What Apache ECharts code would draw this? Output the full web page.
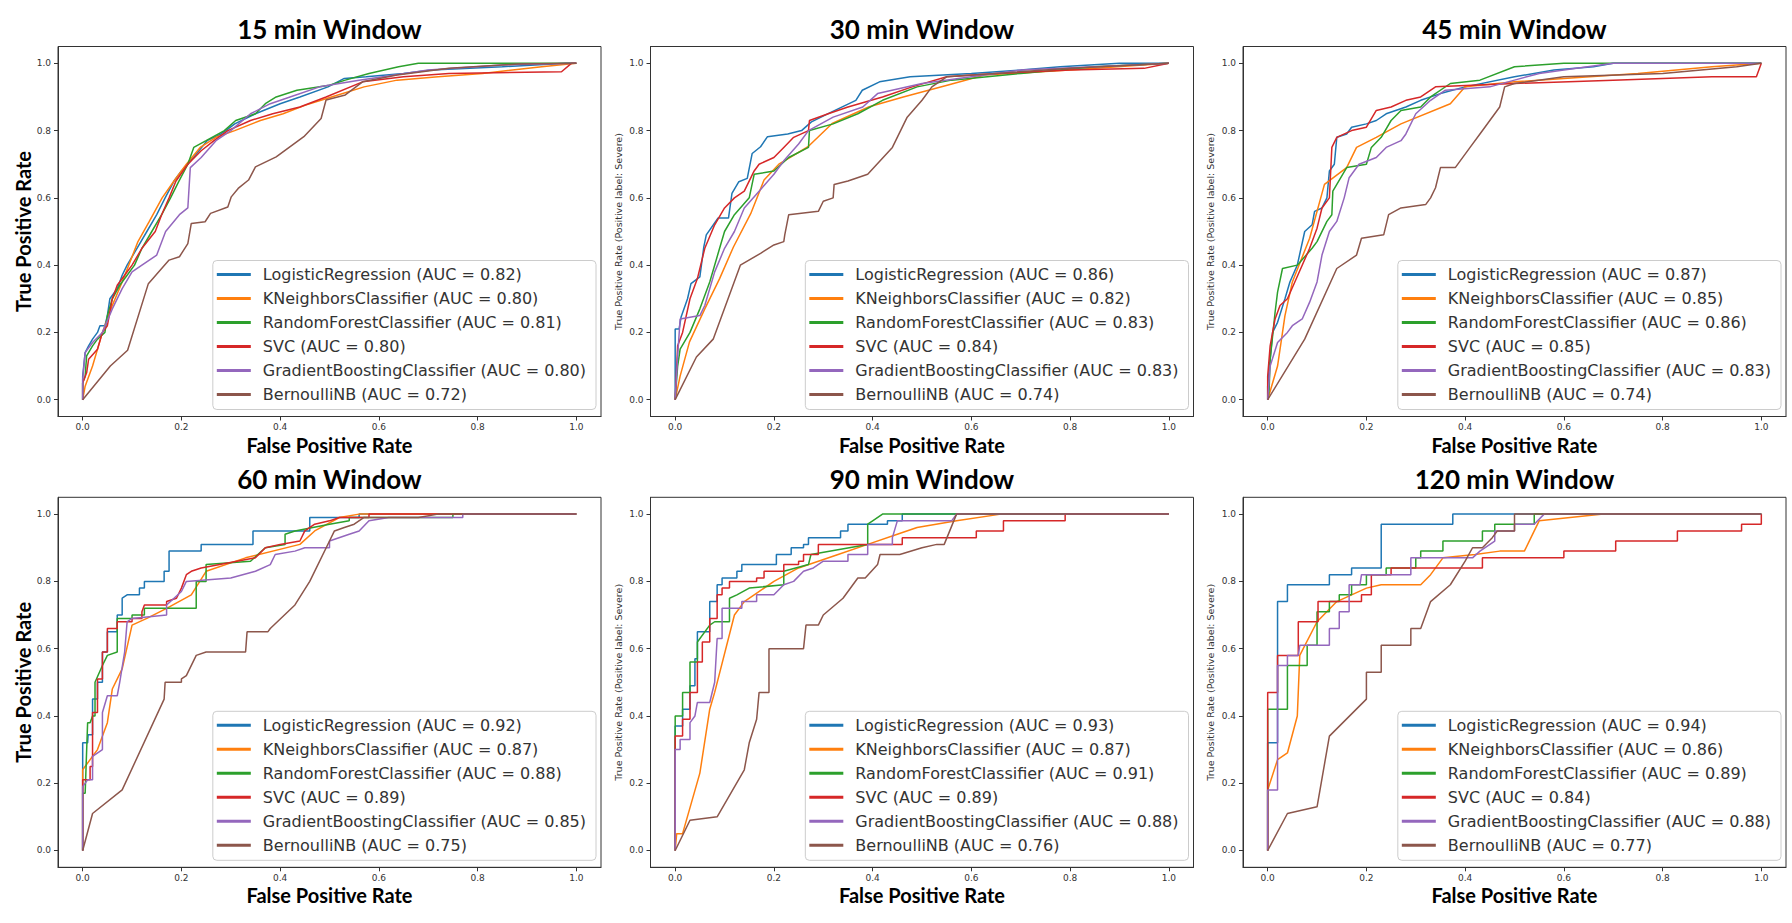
<!DOCTYPE html>
<html>
<head>
<meta charset="utf-8">
<script src="https://cdn.jsdelivr.net/npm/echarts@6/dist/echarts.min.js"></script>
<style>
html,body{margin:0;padding:0;background:#fff;}
#roc-chart{width:1792px;height:923px;}
</style>
</head>
<body>
<div id="roc-chart"></div>
<script>
var windows = ['15 min Window', '30 min Window', '45 min Window', '60 min Window', '90 min Window', '120 min Window'];
var models = ['LogisticRegression', 'KNeighborsClassifier', 'RandomForestClassifier', 'SVC', 'GradientBoostingClassifier', 'BernoulliNB'];
var colors = ['#1f77b4', '#ff7f0e', '#2ca02c', '#d62728', '#9467bd', '#8c564b'];
var tickValues = [0, 0.2, 0.4, 0.6, 0.8, 1.0];

// AUC per model, one list per window
var auc15 = ['0.82', '0.80', '0.81', '0.80', '0.80', '0.72'];
var auc30 = ['0.86', '0.82', '0.83', '0.84', '0.83', '0.74'];
var auc45 = ['0.87', '0.85', '0.86', '0.85', '0.83', '0.74'];
var auc60 = ['0.92', '0.87', '0.88', '0.89', '0.85', '0.75'];
var auc90 = ['0.93', '0.87', '0.91', '0.89', '0.88', '0.76'];
var auc120 = ['0.94', '0.86', '0.89', '0.84', '0.88', '0.77'];

// ROC points [fpr, tpr]
//15 min
var lr15 = [[0,0],[0,0.07],[0.005,0.14],[0.012,0.16],[0.02,0.18],[0.03,0.2],[0.035,0.22],[0.045,0.22],[0.05,0.25],[0.055,0.3],[0.07,0.33],[0.08,0.37],[0.09,0.4],[0.11,0.45],[0.13,0.5],[0.15,0.55],[0.167,0.6],[0.185,0.65],[0.2,0.68],[0.213,0.7],[0.23,0.73],[0.252,0.77],[0.28,0.79],[0.29,0.8],[0.308,0.82],[0.35,0.85],[0.4,0.88],[0.44,0.9],[0.497,0.93],[0.53,0.955],[0.574,0.96],[0.65,0.97],[0.707,0.98],[0.85,0.99],[0.98,1.0],[1,1]];
var kn15 = [[0,0],[0.005,0.04],[0.02,0.1],[0.04,0.2],[0.06,0.28],[0.08,0.35],[0.112,0.47],[0.135,0.53],[0.161,0.6],[0.185,0.65],[0.21,0.7],[0.238,0.75],[0.27,0.78],[0.308,0.8],[0.36,0.83],[0.406,0.85],[0.45,0.875],[0.504,0.9],[0.57,0.93],[0.637,0.95],[0.72,0.96],[0.81,0.97],[0.93,0.99],[1,1]];
var rf15 = [[0,0],[0,0.05],[0.005,0.07],[0.008,0.13],[0.02,0.16],[0.03,0.18],[0.045,0.2],[0.05,0.25],[0.06,0.3],[0.075,0.34],[0.09,0.37],[0.105,0.4],[0.12,0.45],[0.14,0.5],[0.16,0.55],[0.178,0.6],[0.195,0.65],[0.213,0.7],[0.225,0.75],[0.25,0.77],[0.287,0.8],[0.31,0.83],[0.35,0.85],[0.37,0.88],[0.392,0.9],[0.434,0.92],[0.5,0.935],[0.532,0.95],[0.58,0.97],[0.64,0.99],[0.68,1.0],[1,1]];
var sv15 = [[0,0],[0,0.05],[0.008,0.08],[0.012,0.12],[0.03,0.15],[0.04,0.2],[0.05,0.22],[0.06,0.3],[0.07,0.34],[0.085,0.37],[0.1,0.4],[0.12,0.45],[0.147,0.5],[0.16,0.55],[0.175,0.6],[0.189,0.65],[0.213,0.7],[0.24,0.74],[0.266,0.77],[0.294,0.8],[0.34,0.83],[0.385,0.85],[0.44,0.87],[0.493,0.9],[0.567,0.945],[0.65,0.96],[0.742,0.97],[0.97,0.975],[0.99,1.0],[1,1]];
var gb15 = [[0,0],[0,0.06],[0.005,0.14],[0.02,0.17],[0.04,0.2],[0.06,0.27],[0.08,0.33],[0.1,0.38],[0.12,0.4],[0.15,0.43],[0.168,0.5],[0.196,0.55],[0.213,0.57],[0.218,0.69],[0.24,0.72],[0.27,0.77],[0.3,0.8],[0.34,0.85],[0.38,0.88],[0.42,0.9],[0.48,0.93],[0.56,0.95],[0.7,0.98],[0.85,0.995],[1,1]];
var nb15 = [[0,0],[0.056,0.1],[0.091,0.147],[0.133,0.345],[0.175,0.415],[0.196,0.425],[0.213,0.464],[0.22,0.524],[0.248,0.529],[0.259,0.554],[0.294,0.573],[0.301,0.603],[0.315,0.628],[0.336,0.653],[0.35,0.692],[0.392,0.722],[0.448,0.782],[0.483,0.836],[0.493,0.891],[0.532,0.906],[0.567,0.945],[0.637,0.965],[0.742,0.985],[0.882,0.998],[1,1]];
//30 min
var lr30 = [[0,0],[0,0.21],[0.008,0.21],[0.012,0.246],[0.025,0.3],[0.032,0.345],[0.05,0.365],[0.058,0.454],[0.063,0.49],[0.087,0.54],[0.108,0.54],[0.115,0.613],[0.129,0.648],[0.146,0.658],[0.156,0.732],[0.173,0.752],[0.187,0.782],[0.228,0.79],[0.256,0.8],[0.276,0.826],[0.311,0.851],[0.366,0.89],[0.379,0.92],[0.414,0.945],[0.476,0.96],[0.6,0.97],[0.7,0.98],[0.78,0.99],[0.9,1.0],[1,1]];
var kn30 = [[0,0],[0.01,0.07],[0.029,0.172],[0.06,0.27],[0.09,0.36],[0.118,0.454],[0.153,0.553],[0.18,0.653],[0.21,0.7],[0.269,0.752],[0.318,0.821],[0.393,0.871],[0.462,0.9],[0.551,0.935],[0.627,0.965],[0.8,0.98],[1,1]];
var rf30 = [[0,0],[0.005,0.1],[0.01,0.15],[0.03,0.2],[0.05,0.27],[0.07,0.35],[0.09,0.45],[0.1,0.5],[0.12,0.55],[0.15,0.6],[0.16,0.67],[0.2,0.68],[0.23,0.72],[0.27,0.75],[0.272,0.8],[0.32,0.82],[0.37,0.85],[0.42,0.89],[0.49,0.93],[0.56,0.95],[0.7,0.97],[0.85,0.99],[1,1]];
var sv30 = [[0,0],[0.005,0.16],[0.015,0.2],[0.03,0.3],[0.045,0.36],[0.06,0.45],[0.08,0.52],[0.1,0.57],[0.12,0.6],[0.14,0.62],[0.16,0.68],[0.17,0.7],[0.2,0.72],[0.22,0.75],[0.24,0.78],[0.27,0.8],[0.272,0.83],[0.31,0.85],[0.35,0.87],[0.42,0.9],[0.48,0.93],[0.55,0.96],[0.65,0.97],[0.8,0.98],[0.95,0.985],[1,1]];
var gb30 = [[0,0],[0.005,0.13],[0.01,0.24],[0.05,0.25],[0.06,0.28],[0.08,0.38],[0.1,0.45],[0.12,0.5],[0.14,0.57],[0.17,0.62],[0.2,0.67],[0.22,0.71],[0.25,0.76],[0.27,0.8],[0.32,0.84],[0.38,0.87],[0.41,0.91],[0.5,0.94],[0.6,0.96],[0.7,0.98],[0.85,0.99],[1,1]];
var nb30 = [[0,0],[0.043,0.127],[0.077,0.18],[0.132,0.4],[0.173,0.435],[0.2,0.46],[0.22,0.47],[0.222,0.49],[0.23,0.55],[0.29,0.56],[0.3,0.59],[0.32,0.6],[0.322,0.64],[0.35,0.65],[0.39,0.67],[0.44,0.75],[0.47,0.84],[0.5,0.89],[0.52,0.93],[0.55,0.96],[0.65,0.97],[0.8,0.985],[1,1]];
//45 min
var lr45 = [[0,0],[0,0.04],[0.005,0.12],[0.01,0.2],[0.02,0.23],[0.035,0.3],[0.045,0.35],[0.06,0.4],[0.075,0.5],[0.09,0.52],[0.095,0.56],[0.11,0.57],[0.12,0.6],[0.125,0.68],[0.135,0.7],[0.14,0.78],[0.16,0.79],[0.17,0.81],[0.2,0.82],[0.22,0.83],[0.24,0.85],[0.28,0.87],[0.31,0.89],[0.35,0.91],[0.4,0.93],[0.5,0.96],[0.58,0.98],[0.66,0.99],[0.7,1.0],[1,1]];
var kn45 = [[0,0],[0.02,0.1],[0.035,0.25],[0.05,0.35],[0.085,0.48],[0.115,0.64],[0.16,0.69],[0.18,0.75],[0.22,0.78],[0.27,0.82],[0.37,0.88],[0.4,0.93],[0.5,0.945],[0.6,0.955],[0.75,0.97],[0.9,0.99],[1,1]];
var rf45 = [[0,0],[0.003,0.03],[0.005,0.12],[0.015,0.26],[0.02,0.32],[0.03,0.39],[0.06,0.4],[0.09,0.45],[0.1,0.47],[0.12,0.53],[0.13,0.55],[0.132,0.62],[0.16,0.69],[0.2,0.7],[0.21,0.75],[0.23,0.78],[0.25,0.83],[0.27,0.86],[0.31,0.87],[0.33,0.9],[0.37,0.94],[0.43,0.95],[0.5,0.99],[0.6,1.0],[1,1]];
var sv45 = [[0,0],[0,0.07],[0.005,0.16],[0.015,0.24],[0.025,0.28],[0.04,0.3],[0.055,0.35],[0.085,0.45],[0.1,0.51],[0.11,0.57],[0.125,0.6],[0.13,0.75],[0.14,0.78],[0.17,0.8],[0.2,0.81],[0.22,0.86],[0.25,0.87],[0.28,0.89],[0.31,0.9],[0.34,0.93],[0.5,0.94],[0.7,0.95],[0.9,0.96],[0.99,0.96],[1,1]];
var gb45 = [[0,0],[0.005,0.1],[0.02,0.17],[0.04,0.2],[0.05,0.22],[0.07,0.24],[0.085,0.29],[0.1,0.35],[0.11,0.43],[0.125,0.5],[0.14,0.53],[0.155,0.6],[0.165,0.66],[0.185,0.7],[0.22,0.72],[0.24,0.75],[0.27,0.77],[0.28,0.79],[0.3,0.85],[0.33,0.89],[0.36,0.92],[0.45,0.93],[0.5,0.95],[0.55,0.97],[0.6,0.98],[0.7,1.0],[1,1]];
var nb45 = [[0,0],[0.075,0.18],[0.14,0.39],[0.18,0.43],[0.19,0.48],[0.235,0.49],[0.245,0.55],[0.27,0.57],[0.32,0.58],[0.33,0.6],[0.34,0.63],[0.35,0.69],[0.38,0.69],[0.41,0.75],[0.43,0.79],[0.47,0.87],[0.48,0.93],[0.5,0.94],[0.6,0.96],[0.8,0.97],[0.95,0.99],[1,1]];
//60 min
var lr60 = [[0,0],[0,0.32],[0.01,0.32],[0.011,0.344],[0.02,0.344],[0.02,0.45],[0.03,0.45],[0.03,0.5],[0.04,0.5],[0.04,0.59],[0.05,0.59],[0.05,0.65],[0.07,0.65],[0.07,0.7],[0.08,0.7],[0.08,0.75],[0.09,0.76],[0.115,0.76],[0.115,0.78],[0.125,0.78],[0.125,0.8],[0.165,0.8],[0.165,0.83],[0.175,0.83],[0.175,0.89],[0.24,0.89],[0.24,0.91],[0.345,0.91],[0.345,0.95],[0.46,0.95],[0.46,0.99],[0.56,0.99],[0.56,1.0],[1,1]];
var kn60 = [[0,0],[0,0.24],[0.03,0.3],[0.05,0.38],[0.06,0.48],[0.08,0.54],[0.1,0.67],[0.13,0.69],[0.17,0.72],[0.22,0.76],[0.25,0.83],[0.33,0.87],[0.44,0.91],[0.47,0.95],[0.52,0.99],[0.56,1.0],[1,1]];
var rf60 = [[0,0],[0,0.17],[0.005,0.17],[0.01,0.38],[0.015,0.38],[0.02,0.4],[0.025,0.4],[0.025,0.5],[0.04,0.55],[0.05,0.58],[0.07,0.59],[0.07,0.69],[0.1,0.69],[0.1,0.7],[0.125,0.7],[0.125,0.72],[0.23,0.72],[0.23,0.8],[0.25,0.8],[0.25,0.85],[0.34,0.86],[0.37,0.9],[0.41,0.91],[0.41,0.94],[0.43,0.95],[0.5,0.97],[0.54,0.98],[0.54,0.99],[0.75,0.99],[0.75,1.0],[1,1]];
var sv60 = [[0,0],[0,0.21],[0.015,0.21],[0.015,0.25],[0.02,0.25],[0.02,0.41],[0.03,0.41],[0.03,0.51],[0.04,0.51],[0.04,0.59],[0.05,0.59],[0.05,0.66],[0.07,0.66],[0.07,0.68],[0.1,0.68],[0.1,0.69],[0.12,0.69],[0.12,0.71],[0.125,0.73],[0.17,0.73],[0.17,0.74],[0.19,0.75],[0.2,0.78],[0.21,0.82],[0.22,0.83],[0.24,0.84],[0.35,0.87],[0.37,0.9],[0.4,0.91],[0.44,0.92],[0.45,0.95],[0.47,0.97],[0.5,0.98],[0.52,0.99],[0.58,0.99],[0.58,1.0],[1,1]];
var gb60 = [[0,0],[0,0.19],[0.01,0.21],[0.02,0.21],[0.02,0.28],[0.04,0.3],[0.04,0.41],[0.05,0.46],[0.07,0.46],[0.075,0.5],[0.085,0.59],[0.09,0.68],[0.1,0.69],[0.17,0.7],[0.17,0.73],[0.2,0.77],[0.21,0.8],[0.3,0.81],[0.35,0.83],[0.38,0.85],[0.39,0.88],[0.43,0.89],[0.45,0.9],[0.5,0.9],[0.5,0.92],[0.54,0.94],[0.56,0.95],[0.58,0.98],[0.62,0.99],[0.77,0.99],[0.77,1.0],[1,1]];
var nb60 = [[0,0],[0.02,0.11],[0.08,0.18],[0.165,0.45],[0.167,0.5],[0.2,0.5],[0.2,0.51],[0.21,0.52],[0.23,0.58],[0.25,0.59],[0.33,0.59],[0.333,0.65],[0.375,0.65],[0.38,0.66],[0.43,0.73],[0.46,0.8],[0.5,0.92],[0.51,0.95],[0.53,0.96],[0.55,0.97],[0.57,0.99],[0.68,0.99],[0.72,1.0],[1,1]];
//90 min
var lr90 = [[0,0],[0,0.37],[0.015,0.37],[0.015,0.42],[0.03,0.42],[0.03,0.49],[0.04,0.49],[0.04,0.57],[0.045,0.57],[0.045,0.65],[0.07,0.65],[0.07,0.74],[0.085,0.74],[0.085,0.79],[0.095,0.79],[0.095,0.81],[0.125,0.81],[0.125,0.83],[0.135,0.83],[0.135,0.85],[0.205,0.85],[0.205,0.88],[0.235,0.88],[0.235,0.9],[0.26,0.9],[0.26,0.91],[0.27,0.91],[0.27,0.93],[0.335,0.93],[0.335,0.95],[0.35,0.95],[0.35,0.97],[0.43,0.97],[0.43,0.98],[0.46,0.98],[0.46,1.0],[1,1]];
var kn90 = [[0,0],[0.003,0.05],[0.015,0.05],[0.05,0.23],[0.07,0.42],[0.08,0.47],[0.12,0.7],[0.14,0.74],[0.16,0.76],[0.2,0.8],[0.25,0.84],[0.33,0.88],[0.39,0.91],[0.45,0.94],[0.49,0.96],[0.57,0.98],[0.66,1.0],[1,1]];
var rf90 = [[0,0],[0,0.4],[0.015,0.4],[0.015,0.47],[0.03,0.47],[0.03,0.56],[0.045,0.56],[0.045,0.62],[0.07,0.67],[0.08,0.68],[0.11,0.68],[0.11,0.75],[0.125,0.76],[0.15,0.78],[0.22,0.79],[0.22,0.83],[0.27,0.85],[0.275,0.88],[0.39,0.91],[0.39,0.97],[0.4,0.98],[0.42,1.0],[1,1]];
var sv90 = [[0,0],[0,0.34],[0.015,0.34],[0.015,0.39],[0.03,0.39],[0.03,0.47],[0.045,0.47],[0.045,0.56],[0.055,0.56],[0.055,0.62],[0.07,0.62],[0.07,0.69],[0.085,0.69],[0.085,0.76],[0.095,0.76],[0.095,0.78],[0.11,0.78],[0.11,0.8],[0.165,0.8],[0.165,0.81],[0.18,0.81],[0.18,0.83],[0.22,0.83],[0.22,0.85],[0.25,0.85],[0.25,0.86],[0.26,0.86],[0.26,0.88],[0.29,0.88],[0.29,0.91],[0.46,0.91],[0.46,0.93],[0.61,0.93],[0.61,0.95],[0.665,0.95],[0.665,0.98],[0.79,0.98],[0.79,1.0],[1,1]];
var gb90 = [[0,0],[0,0.3],[0.01,0.3],[0.01,0.33],[0.03,0.33],[0.03,0.38],[0.04,0.4],[0.045,0.44],[0.07,0.44],[0.08,0.5],[0.085,0.63],[0.095,0.63],[0.095,0.72],[0.135,0.72],[0.135,0.74],[0.165,0.74],[0.165,0.76],[0.2,0.76],[0.22,0.79],[0.24,0.8],[0.26,0.83],[0.28,0.84],[0.3,0.86],[0.35,0.86],[0.35,0.88],[0.39,0.88],[0.39,0.91],[0.44,0.91],[0.44,0.93],[0.45,0.98],[0.56,0.98],[0.57,1.0],[1,1]];
var nb90 = [[0,0],[0.03,0.09],[0.085,0.1],[0.14,0.24],[0.15,0.32],[0.165,0.39],[0.17,0.47],[0.19,0.47],[0.19,0.6],[0.26,0.6],[0.265,0.67],[0.29,0.67],[0.3,0.7],[0.34,0.75],[0.37,0.81],[0.385,0.81],[0.41,0.85],[0.415,0.88],[0.455,0.88],[0.5,0.9],[0.53,0.91],[0.545,0.91],[0.57,1.0],[1,1]];
//120 min
var lr120 = [[0,0],[0,0.32],[0.02,0.32],[0.02,0.74],[0.04,0.74],[0.04,0.79],[0.125,0.79],[0.125,0.82],[0.17,0.82],[0.17,0.84],[0.23,0.84],[0.23,0.97],[0.375,0.97],[0.375,1.0],[1,1]];
var kn120 = [[0,0],[0,0.18],[0.02,0.27],[0.04,0.29],[0.06,0.4],[0.065,0.58],[0.1,0.68],[0.14,0.74],[0.2,0.78],[0.23,0.79],[0.31,0.79],[0.33,0.82],[0.355,0.87],[0.42,0.88],[0.47,0.89],[0.52,0.89],[0.54,0.95],[0.55,0.98],[0.68,1.0],[1,1]];
var rf120 = [[0,0],[0,0.42],[0.04,0.42],[0.04,0.55],[0.08,0.55],[0.08,0.61],[0.1,0.61],[0.1,0.71],[0.125,0.71],[0.125,0.74],[0.145,0.74],[0.145,0.76],[0.17,0.76],[0.17,0.79],[0.2,0.79],[0.2,0.82],[0.24,0.82],[0.24,0.84],[0.3,0.84],[0.3,0.87],[0.31,0.87],[0.31,0.89],[0.355,0.89],[0.355,0.92],[0.435,0.92],[0.435,0.95],[0.46,0.95],[0.46,0.97],[0.54,0.97],[0.54,1.0],[1,1]];
var sv120 = [[0,0],[0,0.47],[0.02,0.47],[0.02,0.58],[0.062,0.58],[0.062,0.68],[0.102,0.68],[0.102,0.74],[0.19,0.74],[0.19,0.76],[0.21,0.76],[0.21,0.82],[0.25,0.82],[0.25,0.84],[0.435,0.84],[0.435,0.87],[0.6,0.87],[0.6,0.89],[0.705,0.89],[0.705,0.92],[0.83,0.92],[0.83,0.95],[0.96,0.95],[0.96,0.97],[1,0.97],[1,1]];
var gb120 = [[0,0],[0,0.18],[0.02,0.18],[0.02,0.55],[0.04,0.55],[0.04,0.58],[0.062,0.58],[0.065,0.61],[0.125,0.61],[0.125,0.66],[0.145,0.66],[0.145,0.71],[0.165,0.71],[0.165,0.79],[0.187,0.79],[0.19,0.82],[0.29,0.82],[0.29,0.87],[0.415,0.87],[0.43,0.89],[0.46,0.92],[0.46,0.95],[0.5,0.95],[0.5,0.97],[0.54,0.97],[0.56,1.0],[1,1]];
var nb120 = [[0,0],[0.04,0.11],[0.1,0.13],[0.125,0.34],[0.2,0.45],[0.2,0.53],[0.23,0.53],[0.23,0.61],[0.29,0.61],[0.29,0.66],[0.31,0.66],[0.33,0.74],[0.37,0.79],[0.4,0.86],[0.415,0.9],[0.435,0.9],[0.455,0.93],[0.465,0.95],[0.5,0.95],[0.5,1.0],[1,1]];

var curves = [
	[lr15, kn15, rf15, sv15, gb15, nb15],
	[lr30, kn30, rf30, sv30, gb30, nb30],
	[lr45, kn45, rf45, sv45, gb45, nb45],
	[lr60, kn60, rf60, sv60, gb60, nb60],
	[lr90, kn90, rf90, sv90, gb90, nb90],
	[lr120, kn120, rf120, sv120, gb120, nb120]
];
var aucs = [auc15, auc30, auc45, auc60, auc90, auc120];

getRocCharts();

function getRocCharts() {
	// panel boxes (matplotlib axes frames)
	var W = 1792, H = 923;
	var boxLeft = [58, 650.5, 1243];
	var boxTop = [46.5, 497.3];
	var boxW = 543, boxH = 370;
	var titleFont = 'Lato, "Open Sans", sans-serif';
	var tickFont = '"DejaVu Sans", sans-serif';

	var option = {
		animation: false,
		backgroundColor: '#fff',
		title: [], grid: [], xAxis: [], yAxis: [], legend: [], series: []
	};

	for (var p = 0; p < 6; p++) {
		var col = p % 3, row = Math.floor(p / 3);
		var bx = boxLeft[col], by = boxTop[row];
		var bigY = col === 0;

		option.title.push({
			text: windows[p],
			left: bx + boxW / 2,
			top: by - 31,
			textAlign: 'center',
			padding: 0,
			textStyle: { fontFamily: titleFont, fontWeight: 'bold', fontSize: 26, color: '#000' }
		});
		option.grid.push({
			left: bx, top: by, width: boxW, height: boxH,
			show: true, borderColor: '#333', borderWidth: 1
		});
		option.xAxis.push({
			gridIndex: p, type: 'value', min: -0.05, max: 1.05,
			axisLine: { show: true, onZero: false, lineStyle: { color: '#333', width: 1 } },
			axisTick: { show: true, customValues: tickValues, length: 4, lineStyle: { color: '#333' } },
			axisLabel: {
				customValues: tickValues, margin: 6, fontSize: 9, color: '#333', fontFamily: tickFont,
				formatter: function (v) { return v.toFixed(1); }
			},
			splitLine: { show: false },
			name: 'False Positive Rate', nameLocation: 'middle', nameGap: 18,
			nameTextStyle: { fontFamily: titleFont, fontWeight: 'bold', fontSize: 20, color: '#000' }
		});
		option.yAxis.push({
			gridIndex: p, type: 'value', min: -0.05, max: 1.05,
			axisLine: { show: true, onZero: false, lineStyle: { color: '#333', width: 1 } },
			axisTick: { show: true, customValues: tickValues, length: 4, lineStyle: { color: '#333' } },
			axisLabel: {
				customValues: tickValues, margin: 7, fontSize: 9, color: '#333', fontFamily: tickFont,
				formatter: function (v) { return v.toFixed(1); }
			},
			splitLine: { show: false },
			name: bigY ? 'True Positive Rate' : 'True Positive Rate (Positive label: Severe)',
			nameLocation: 'middle', nameGap: bigY ? 23.5 : 27.5,
			nameTextStyle: bigY
				? { fontFamily: titleFont, fontWeight: 'bold', fontSize: 20, color: '#000' }
				: { fontFamily: tickFont, fontSize: 9.5, color: '#333' }
		});

		var names = [];
		for (var m = 0; m < 6; m++) {
			var nm = models[m] + ' (AUC = ' + aucs[p][m] + ')';
			names.push(nm);
			option.series.push({
				name: nm,
				type: 'line',
				xAxisIndex: p, yAxisIndex: p,
				data: curves[p][m],
				symbol: 'none', showSymbol: false,
				itemStyle: { color: colors[m] },
				lineStyle: { color: colors[m], width: 1.5 },
				z: 2 + m
			});
		}
		option.legend.push({
			orient: 'vertical',
			right: W - (bx + boxW) + 5,
			bottom: H - (by + boxH) + 7,
			data: names,
			icon: 'rect', itemWidth: 34, itemHeight: 3, itemGap: 8,
			padding: [6, 10, 7, 4],
			backgroundColor: 'rgba(255,255,255,0.8)',
			borderColor: '#cccccc', borderWidth: 1, borderRadius: 4,
			selectedMode: false,
			textStyle: { fontFamily: tickFont, fontSize: 16, color: '#333', padding: [0, 0, 0, 7] }
		});
	}

	var dom = document.getElementById('roc-chart');
	var myChart = echarts.init(dom, null, { renderer: 'svg' });
	myChart.setOption(option, true);
}
</script>
</body>
</html>
